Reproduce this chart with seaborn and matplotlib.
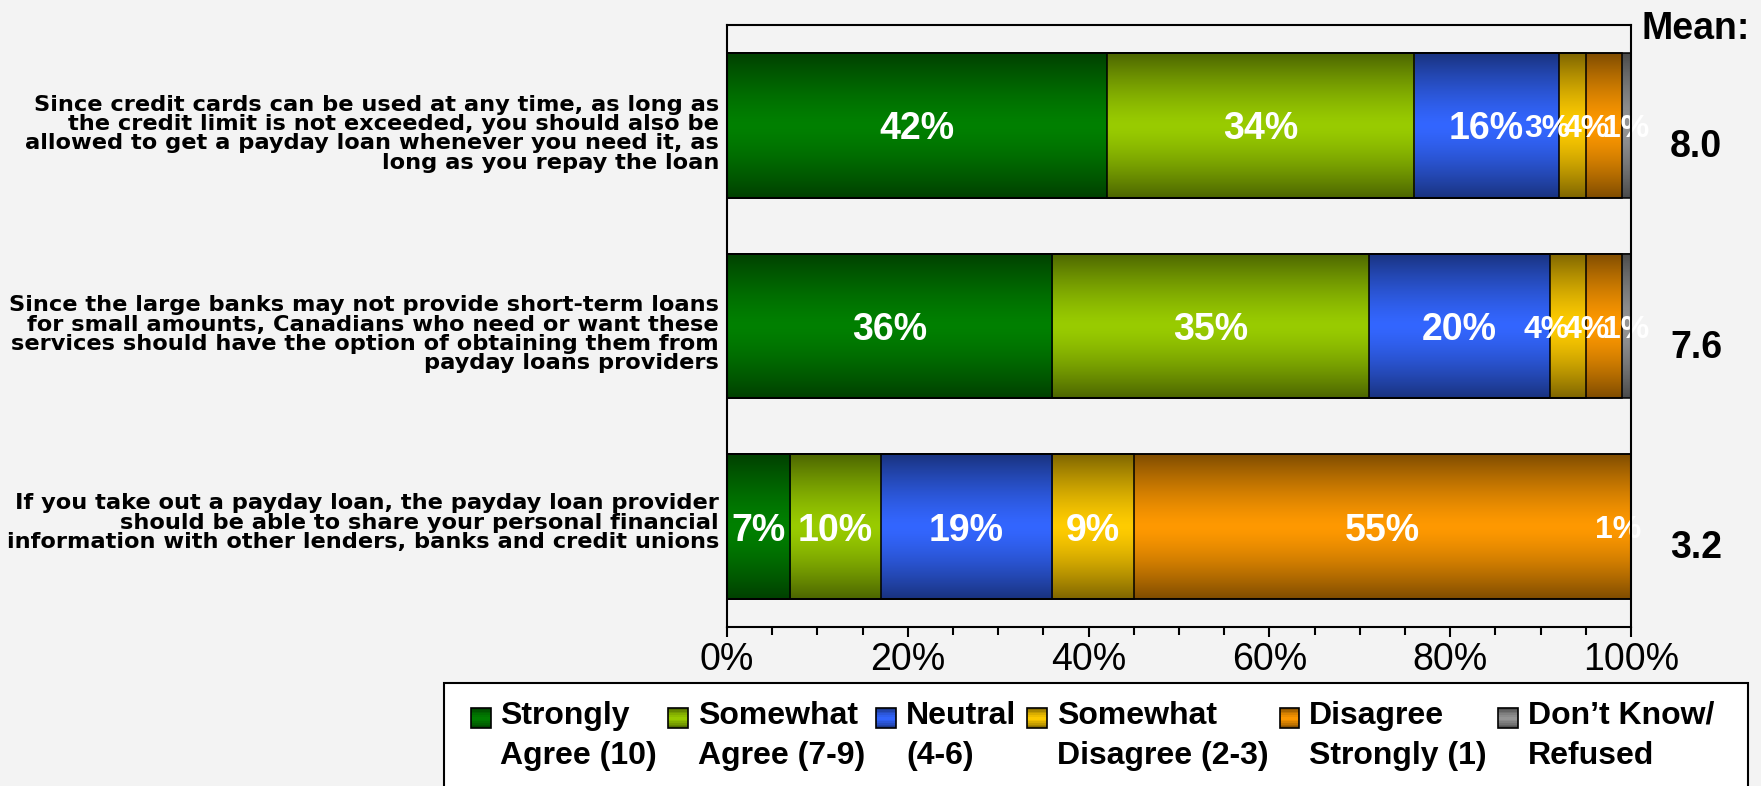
import numpy as np
import pandas as pd
import matplotlib
matplotlib.use("Agg")
import matplotlib.pyplot as plt
import matplotlib.transforms as mtransforms
import seaborn as sns
from matplotlib.colors import to_rgb
from matplotlib.patches import Rectangle, Patch
from matplotlib.legend_handler import HandlerBase
from matplotlib.ticker import MultipleLocator, PercentFormatter

# ---- data ----------------------------------------------------------------
statements = [
    "Since credit cards can be used at any time, as long as\n"
    "the credit limit is not exceeded, you should also be\n"
    "allowed to get a payday loan whenever you need it, as\n"
    "long as you repay the loan",
    "Since the large banks may not provide short-term loans\n"
    "for small amounts, Canadians who need or want these\n"
    "services should have the option of obtaining them from\n"
    "payday loans providers",
    "If you take out a payday loan, the payday loan provider\n"
    "should be able to share your personal financial\n"
    "information with other lenders, banks and credit unions",
]
categories = [
    "Strongly\nAgree (10)",
    "Somewhat\nAgree (7-9)",
    "Neutral\n(4-6)",
    "Somewhat\nDisagree (2-3)",
    "Disagree\nStrongly (1)",
    "Don\u2019t Know/\nRefused",
]
strongly_agree = [42, 36, 7]
somewhat_agree = [34, 35, 10]
neutral = [16, 20, 19]
somewhat_disagree = [3, 4, 9]
disagree_strongly = [4, 4, 55]
dont_know = [1, 1, 1]
mean_scores = ["8.0", "7.6", "3.2"]
x_ticks = [0, 20, 40, 60, 80, 100]

colors = ["#008000", "#99CC00", "#3366FF", "#FFCC00", "#FF9900", "#969696"]
BG = "#F3F3F3"

sns.set_theme(style="white")
plt.rcParams["font.family"] = ["Liberation Sans", "DejaVu Sans"]
plt.rcParams["text.color"] = "black"


def shade(mid, t):
    """Colour across a bar: dark at the edges, full colour in the middle."""
    s = np.abs(2 * np.asarray(t) - 1)
    f = 1 - 0.5 * s ** 1.4
    return np.clip(np.outer(f, mid), 0, 1)


class GradientSquare(HandlerBase):
    def __init__(self, lift=0.0, **kw):
        super().__init__(**kw)
        self.lift = lift

    def create_artists(self, legend, orig_handle, xdescent, ydescent,
                       width, height, fontsize, trans):
        mid = np.array(to_rgb(orig_handle.get_facecolor()))
        size = width
        x0 = -xdescent
        y0 = -ydescent + (height - size) / 2 + self.lift
        n = 12
        cols = shade(mid, (np.arange(n) + 0.5) / n)
        arts = [Rectangle((x0, y0 + j * size / n), size, size / n,
                          facecolor=cols[j], edgecolor="none", transform=trans)
                for j in range(n)]
        arts.append(Rectangle((x0, y0), size, size, fill=False,
                              edgecolor="black", lw=1.2, transform=trans))
        return arts


W, H = 1761, 786
fig = plt.figure(figsize=(W / 100, H / 100), dpi=100, facecolor=BG)
ax = fig.add_axes([727 / W, 1 - 627 / H, 904 / W, 602 / H])
ax.set_facecolor(BG)

series = [strongly_agree, somewhat_agree, neutral,
          somewhat_disagree, disagree_strongly, dont_know]
values = np.array(series, dtype=float)
cum = values.cumsum(axis=0)

# stacked bars: draw the longest running total first, shorter ones on top
order = 0
for k in range(len(series) - 1, -1, -1):
    df = pd.DataFrame({"statement": statements, "share": cum[k]})
    before = len(ax.patches)
    sns.barplot(data=df, x="share", y="statement", orient="h",
                color=colors[k], saturation=1, width=0.72, ax=ax,
                edgecolor="black", linewidth=1.1, zorder=6)
    mid = np.array(to_rgb(colors[k]))
    grad = shade(mid, np.linspace(0, 1, 121)).reshape(121, 1, 3)
    for p in ax.patches[before:]:
        x0, y0, w, h = p.get_x(), p.get_y(), p.get_width(), p.get_height()
        ax.imshow(grad, extent=(x0, x0 + w, y0 + h, y0), aspect="auto",
                  interpolation="bilinear", zorder=2 + 0.01 * order)
        order += 1
        p.set_facecolor("none")

ax.set_xlim(0, 100)
ax.set_ylim(2.5, -0.5)
ax.set_xlabel("")
ax.set_ylabel("")

# segment value labels; narrow neighbours are nudged left so they stay legible
for i in range(len(statements)):
    centers = [0.0] * len(series)
    nxt = None
    for k in range(len(series) - 1, -1, -1):
        v = values[k, i]
        xm = cum[k, i] - v / 2
        if xm > 100:
            xm = 98.6
        if nxt is not None:
            xm = min(xm, nxt - 4.4)
        centers[k] = xm
        nxt = xm
    for k in range(len(series)):
        v = values[k, i]
        ax.text(centers[k], i, f"{v:g}%", ha="center", va="center_baseline",
                color="white", fontweight="bold",
                fontsize=27 if v >= 5 else 23, zorder=10, clip_on=False)

# mean scores at the right
mix = mtransforms.blended_transform_factory(ax.transAxes, ax.transData)
ax.text(1.072, 1.0, "Mean:", transform=ax.transAxes, ha="center",
        va="center_baseline", fontsize=27, fontweight="bold", color="black")
for i, m in enumerate(mean_scores):
    ax.text(1.072, i + 0.088, m, transform=mix, ha="center",
            va="center_baseline", fontsize=27, fontweight="bold", color="black")

# axes styling
ax.set_xticks(x_ticks)
ax.xaxis.set_minor_locator(MultipleLocator(5))
ax.xaxis.set_major_formatter(PercentFormatter(xmax=100, decimals=0))
ax.tick_params(axis="x", which="both", bottom=True, direction="out",
               color="black", width=1.5, labelsize=27, pad=4,
               labelcolor="black")
ax.tick_params(axis="x", which="major", length=7)
ax.tick_params(axis="x", which="minor", length=6)
ax.tick_params(axis="y", length=0, pad=5.8)
for lbl in ax.get_yticklabels():
    lbl.set_fontfamily(["DejaVu Sans"])
    lbl.set_fontweight("bold")
    lbl.set_fontsize(16.2)
    lbl.set_linespacing(0.96)
    lbl.set_color("black")
    # four-line statements sit a little low, three-line ones a little high
    n_lines = lbl.get_text().count("\n") + 1
    dy = -4.7 if n_lines >= 4 else 4.0
    lbl.set_transform(lbl.get_transform() +
                      mtransforms.ScaledTranslation(0, dy / 72, fig.dpi_scale_trans))
for side in ["left", "right", "top", "bottom"]:
    ax.spines[side].set_visible(True)
    ax.spines[side].set_color("black")
    ax.spines[side].set_linewidth(1.5)
    ax.spines[side].set_zorder(12)

# legend box and entries
fig.add_artist(Rectangle((444 / W, 1 - 683 / H - 0.3), (1748 - 444) / W, 0.3,
                         transform=fig.transFigure, facecolor="white",
                         edgecolor="black", lw=1.5, zorder=1))
handles = [Patch(facecolor=c) for c in colors]
fs_leg = 23
leg = fig.legend(handles, categories,
                 handler_map={Patch: GradientSquare(lift=13)},
                 ncol=6, mode="expand", loc="upper left",
                 bbox_to_anchor=(471 / W, 1 - 701 / H - 0.2, (1714 - 471) / W, 0.2),
                 bbox_transform=fig.transFigure, frameon=False, borderpad=0,
                 borderaxespad=0, handlelength=19.5 / (fs_leg * 100 / 72),
                 handleheight=0.6, handletextpad=0.31,
                 prop={"weight": "bold", "size": fs_leg})
leg.set_zorder(5)
for t in leg.get_texts():
    t.set_linespacing(1.43)
    t.set_color("black")

fig.savefig("out.png", dpi=100, facecolor=BG)
